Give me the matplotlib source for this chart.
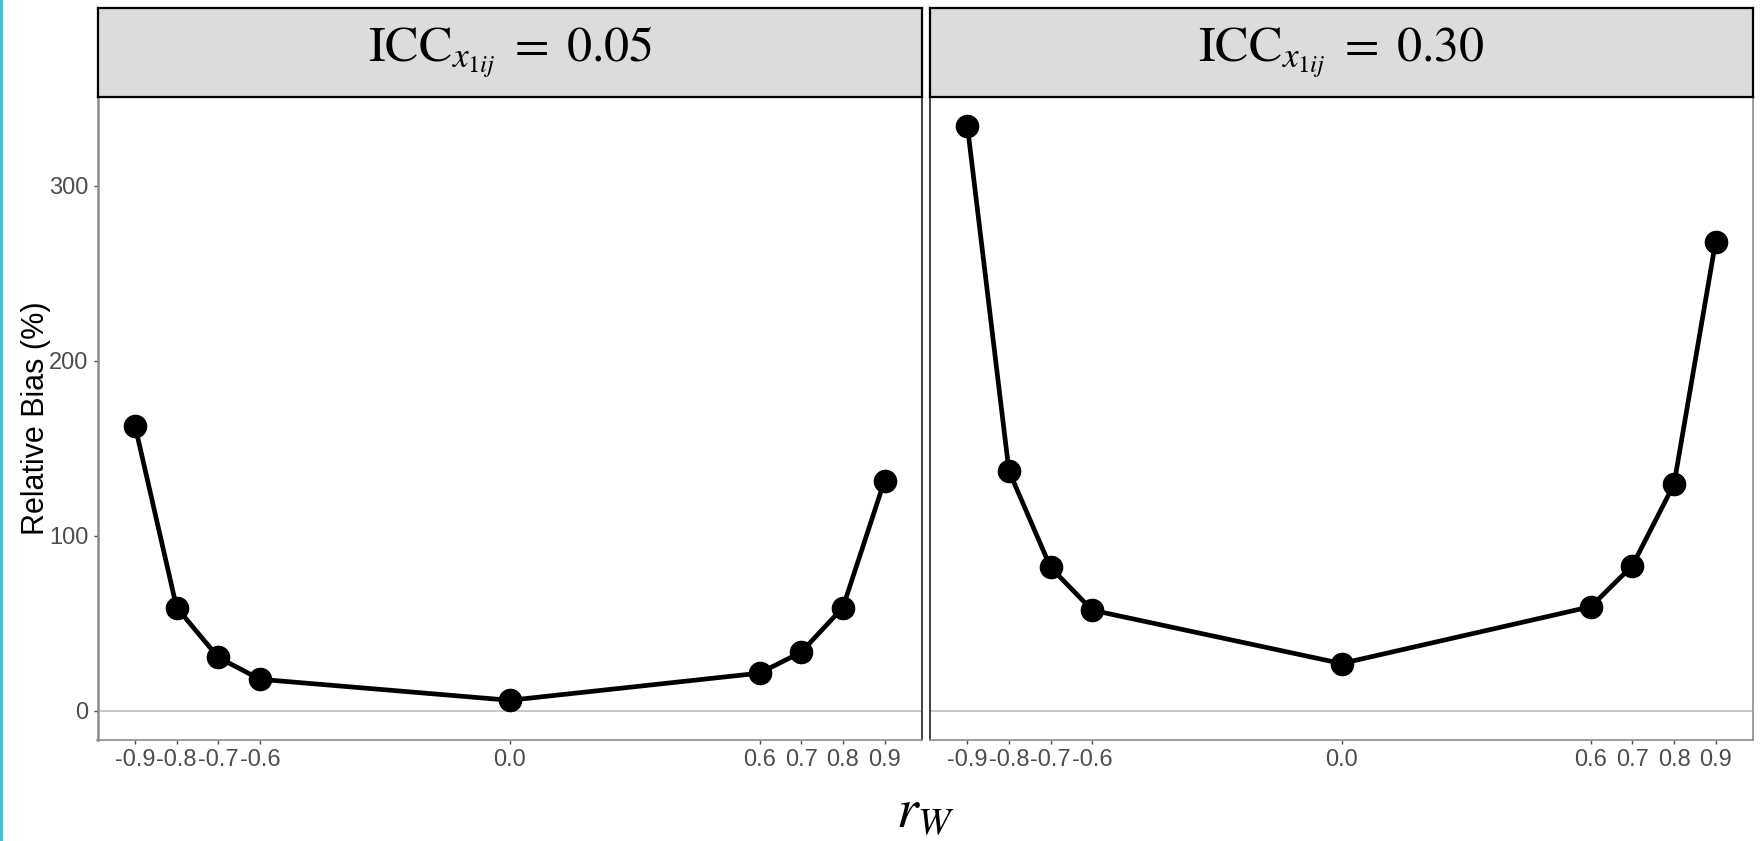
import matplotlib
matplotlib.use("Agg")
import matplotlib.pyplot as plt
from matplotlib.patches import Rectangle

# ---- data ----
r_w = [-0.9, -0.8, -0.7, -0.6, 0.0, 0.6, 0.7, 0.8, 0.9]
tick_labels = ["-0.9", "-0.8", "-0.7", "-0.6", "0.0", "0.6", "0.7", "0.8", "0.9"]
bias_icc005 = [163, 59, 30.5, 18, 6, 21.5, 33.5, 59, 131.5]
bias_icc030 = [334, 137, 82, 57.5, 27, 59.5, 83, 129.5, 268]
panel_titles = [r"$\mathrm{ICC}_{x_{1ij}}\;=\;0.05$", r"$\mathrm{ICC}_{x_{1ij}}\;=\;0.30$"]
y_ticks = [0, 100, 200, 300]

plt.rcParams["mathtext.fontset"] = "stix"
tick_font = ["Liberation Sans Narrow", "Liberation Sans", "DejaVu Sans"]

W, H = 1762, 841
fig = plt.figure(figsize=(W / 100, H / 100), dpi=100)
fig.patch.set_facecolor("white")

# cyan bar on the left edge
fig.patches.append(Rectangle((0, 0), 3 / W, 1, transform=fig.transFigure,
                             facecolor="#41C0DC", edgecolor="none"))

panels = [
    (97.5, 922.0, bias_icc005),
    (930.0, 1753.0, bias_icc030),
]
ax_top, ax_bot = 97.0, 740.0
strip_top = 8.0

axes = []
for i, (x0, x1, vals) in enumerate(panels):
    ax = fig.add_axes([x0 / W, 1 - ax_bot / H, (x1 - x0) / W, (ax_bot - ax_top) / H])
    axes.append(ax)
    ax.axhline(0, color="#BEBEBE", lw=1.2, zorder=1)
    ax.plot(r_w, vals, color="black", lw=3.4, zorder=2, solid_capstyle="round")
    ax.plot(r_w, vals, "o", color="black", ms=16, zorder=3)
    ax.set_xlim(-0.99, 0.99)
    ax.set_ylim(-16.7, 350.7)
    ax.set_xticks(r_w)
    ax.set_xticklabels(tick_labels)
    ax.set_yticks(y_ticks)
    for lab in ax.get_xticklabels() + ax.get_yticklabels():
        lab.set_family(tick_font)
        lab.set_fontsize(17)
        lab.set_color("#4D4D4D")
    ax.tick_params(axis="both", length=3, width=1, color="#4D4D4D", pad=3.5)
    if i == 1:
        ax.tick_params(axis="y", left=False, labelleft=False)
    for s in ax.spines.values():
        s.set_linewidth(1.2)
    ax.spines["top"].set_visible(False)
    ax.spines["bottom"].set_color("#8C8C8C")
    if i == 0:
        ax.spines["left"].set_color("#8C8C8C")
        ax.spines["left"].set_linewidth(1.8)
        ax.spines["right"].set_color("#222222")
    else:
        ax.spines["left"].set_color("#222222")
        ax.spines["right"].set_color("#8C8C8C")

    # strip
    sax = fig.add_axes([x0 / W, 1 - ax_top / H, (x1 - x0) / W, (ax_top - strip_top) / H])
    sax.set_facecolor("#DCDCDC")
    sax.set_xticks([])
    sax.set_yticks([])
    for s in sax.spines.values():
        s.set_color("black")
        s.set_linewidth(1.6)
    sax.text(0.5, 0.5, panel_titles[i], transform=sax.transAxes, ha="center",
             va="center", fontsize=36, color="black")

fig.text(36 / W, 1 - 418 / H, "Relative Bias (%)", rotation=90, ha="center",
         va="center", fontsize=22, color="black",
         family=["Liberation Sans", "DejaVu Sans"])
fig.text(925 / W, 1 - 812 / H, r"$r_W$", ha="center", va="center",
         fontsize=40, color="black")

fig.savefig("out.png", dpi=100, facecolor="white")
